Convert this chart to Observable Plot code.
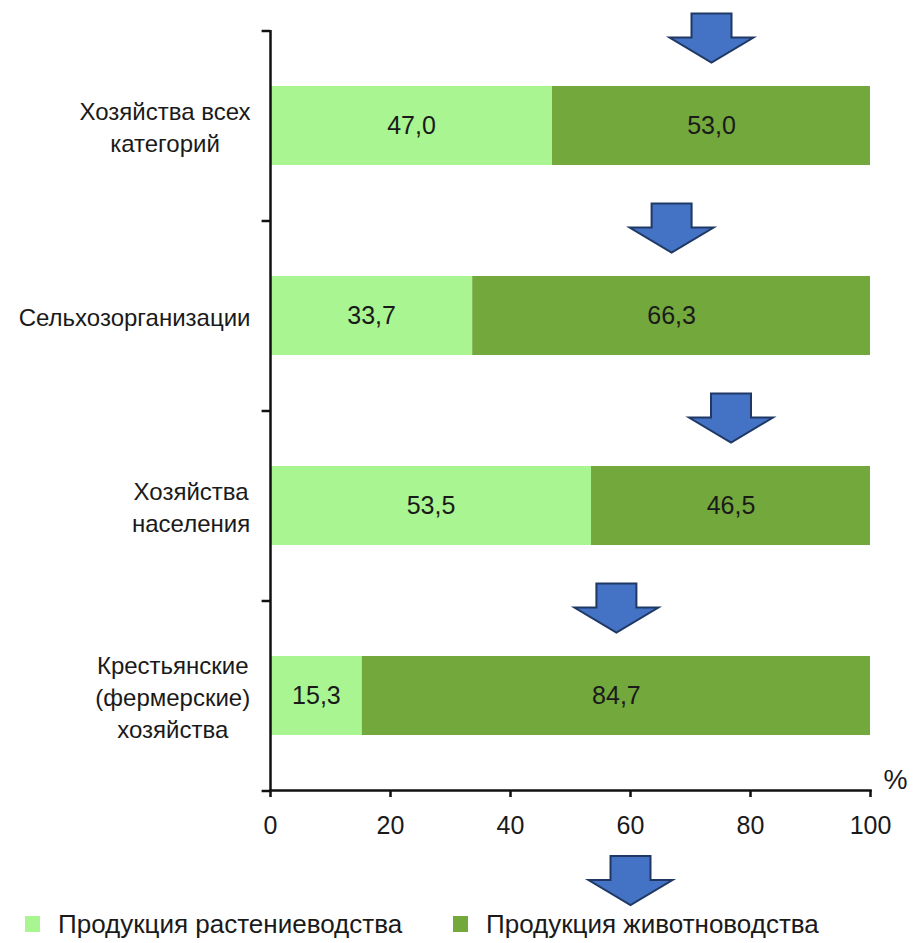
<!DOCTYPE html>
<html>
<head>
<meta charset="utf-8">
<script src="https://cdn.jsdelivr.net/npm/d3@7"></script>
<script src="https://cdn.jsdelivr.net/npm/@observablehq/plot@0.6"></script>
<style>
  html, body { margin: 0; padding: 0; background: #fff; }
  body { width: 923px; height: 943px; overflow: hidden; font-family: "Liberation Sans", Arial, sans-serif; }
  #chart svg { overflow: visible; display: block; }
  #legend { position: relative; height: 28px; font-size: 26px; color: #1a1a1a; }
  .item { position: absolute; top: 0; display: flex; align-items: center; height: 28px; white-space: nowrap; }
  .sw { width: 15px; height: 16px; margin-right: 18px; }
</style>
</head>
<body>
<div id="chart"></div>
<div id="legend"></div>
<script>
// ---- data ----
const categories = [
  "Хозяйства всех\nкатегорий",
  "Сельхозорганизации",
  "Хозяйства\nнаселения",
  "Крестьянские\n(фермерские)\nхозяйства"
];
const seriesNames = ["Продукция растениеводства", "Продукция животноводства"];
const cropShare = [47.0, 33.7, 53.5, 15.3];
const livestockShare = [53.0, 66.3, 46.5, 84.7];
const xTicks = [0, 20, 40, 60, 80, 100];
const seriesColors = ["#a8f592", "#72a83c"];
const bottomArrowX = [60];

// ---- table ----
const rows = [];
categories.forEach((c, i) => {
  rows.push({category: c, series: seriesNames[0], value: cropShare[i]});
  rows.push({category: c, series: seriesNames[1], value: livestockShare[i]});
});
// arrow over the middle of the livestock segment
const arrows = categories.map((c, i) => ({category: c, x: cropShare[i] + livestockShare[i] / 2}));

// down-arrow symbol
const arrowSymbol = {
  draw(ctx) {
    const sw = 20, hw = 42, top = -24.5, mid = -0.5, tip = 24.5;
    ctx.moveTo(-sw, top);
    ctx.lineTo(sw, top);
    ctx.lineTo(sw, mid);
    ctx.lineTo(hw, mid);
    ctx.lineTo(0, tip);
    ctx.lineTo(-hw, mid);
    ctx.lineTo(-sw, mid);
    ctx.closePath();
  }
};

const W = 923, H = 910, mTop = 30, mBottom = 120, mLeft = 270, mRight = 53;
const step = (H - mTop - mBottom) / categories.length;

const fmt = v => v.toFixed(1).replace(".", ",");

const chart = Plot.plot({
  width: W,
  height: H,
  marginTop: mTop,
  marginBottom: mBottom,
  marginLeft: mLeft,
  marginRight: mRight,
  style: {fontFamily: "Liberation Sans, Arial, sans-serif", color: "#1a1a1a", background: "white"},
  x: {domain: [0, 100], axis: null},
  y: {domain: categories, paddingInner: 0.585, paddingOuter: 0.2925, axis: null},
  color: {domain: seriesNames, range: seriesColors},
  marks: [
    Plot.barX(rows, Plot.stackX({x: "value", y: "category", fill: "series", order: seriesNames})),
    Plot.text(rows, Plot.stackX({x: "value", y: "category", z: "series", order: seriesNames,
      text: d => fmt(d.value), fontSize: 25, fill: "#1a1a1a"})),
    // y axis line and boundary ticks
    Plot.ruleX([0], {stroke: "#111", strokeWidth: 2.5}),
    Plot.ruleY(categories, {y: d => d, x1: -1.4, x2: 0, dy: -step / 2, stroke: "#111", strokeWidth: 2.5}),
    Plot.ruleY(categories.slice(-1), {y: d => d, x1: -1.4, x2: 0, dy: step / 2, stroke: "#111", strokeWidth: 2.5}),
    // y labels
    Plot.axisY({anchor: "left", tickSize: 0, tickPadding: 20, fontSize: 24, lineHeight: 1.33, textAnchor: "end", label: null}),
    // x axis
    Plot.frame({anchor: "bottom", stroke: "#111", strokeWidth: 2.5}),
    Plot.axisX({ticks: xTicks, tickSize: 7, tickPadding: 19, fontSize: 25, strokeWidth: 2.5, stroke: "#111", label: null, tickFormat: d => String(d)}),
    Plot.text(["%"], {frameAnchor: "bottom-right", dx: 37, dy: -2, fontSize: 27, fill: "#1a1a1a"}),
    // arrows
    Plot.dot(arrows, {x: "x", y: "category", dy: -88, symbol: arrowSymbol, r: 10, fill: "#4472c4", stroke: "#1f3864", strokeWidth: 2}),
    Plot.dot(bottomArrowX, {x: d => d, frameAnchor: "bottom", dy: 90, symbol: arrowSymbol, r: 10, fill: "#4472c4", stroke: "#1f3864", strokeWidth: 2})
  ]
});
document.getElementById("chart").appendChild(chart);

// center lines of multi-line y labels within their right-aligned block
chart.querySelectorAll('g[aria-label="y-axis tick label"] text').forEach(t => {
  const w = t.getBBox().width;
  t.setAttribute("text-anchor", "middle");
  const spans = t.querySelectorAll("tspan");
  if (spans.length) spans.forEach(s => s.setAttribute("x", -w / 2));
  else t.setAttribute("x", -w / 2);
});

// legend
const legend = document.getElementById("legend");
const lefts = [25, 453];
seriesNames.forEach((name, i) => {
  const it = document.createElement("div");
  it.className = "item";
  it.style.left = lefts[i] + "px";
  const sw = document.createElement("span");
  sw.className = "sw";
  sw.style.background = seriesColors[i];
  it.appendChild(sw);
  it.appendChild(document.createTextNode(name));
  legend.appendChild(it);
});
</script>
</body>
</html>
